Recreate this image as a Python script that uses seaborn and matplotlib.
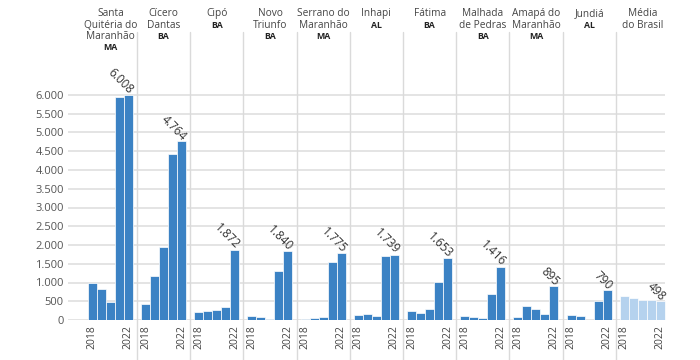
import matplotlib
matplotlib.use("Agg")
import matplotlib.pyplot as plt
import seaborn as sns
import pandas as pd
from matplotlib.lines import Line2D

# ---- data ----
years = ["2018", "2019", "2020", "2021", "2022"]
cities = ["Santa\nQuitéria do\nMaranhão", "Cícero\nDantas", "Cipó", "Novo\nTriunfo",
          "Serrano do\nMaranhão", "Inhapi", "Fátima", "Malhada\nde Pedras",
          "Amapá do\nMaranhão", "Jundiá", "Média\ndo Brasil"]
states = ["MA", "BA", "BA", "BA", "MA", "AL", "BA", "BA", "MA", "AL", ""]

santa_quiteria = [1000, 830, 470, 5940, 6008]
cicero_dantas = [435, 1180, 1940, 4430, 4764]
cipo = [205, 230, 258, 338, 1872]
novo_triunfo = [100, 80, 35, 1315, 1840]
serrano = [35, 60, 80, 1540, 1775]
inhapi = [125, 160, 100, 1715, 1739]
fatima = [240, 190, 295, 1005, 1653]
malhada = [107, 80, 55, 685, 1416]
amapa = [80, 375, 300, 170, 895]
jundia = [133, 107, 0, 515, 790]
media_brasil = [630, 585, 535, 535, 498]

series = [santa_quiteria, cicero_dantas, cipo, novo_triunfo, serrano, inhapi,
          fatima, malhada, amapa, jundia, media_brasil]
y_ticks = list(range(0, 6001, 500))

# ---- style ----
sns.set_theme(style="white")
plt.rcParams['font.family'] = ['Open Sans', 'DejaVu Sans']

BLUE = "#3b82c4"
LIGHT = "#b5d2ee"
W, H = 700, 360
fig = plt.figure(figsize=(7, 3.6), dpi=100)


def fx(px):
    return px / W


def fy(py):
    return 1 - py / H


y0_px, y6000_px, top_px = 320, 95, 32
ppu = (y0_px - y6000_px) / 6000
ymax = (y0_px - top_px) / ppu

# background grid axes
bg = fig.add_axes([fx(68), fy(y0_px), (665 - 68) / W, (y0_px - top_px) / H])
bg.set_ylim(0, ymax)
bg.set_xlim(0, 1)
for t in y_ticks:
    bg.axhline(t, color="#e2e2e2", lw=1.3, zorder=0)
bg.set_yticks(y_ticks)
bg.set_yticklabels([f"{t:,}".replace(",", ".") for t in y_ticks])
bg.tick_params(axis="y", length=0, pad=3, labelsize=8, labelcolor="#555555")
bg.set_xticks([])
for s in bg.spines.values():
    s.set_visible(False)
bg.patch.set_visible(False)

panel_left = 83.8
panel_w = 53.2
unit = 9.0
for i, vals in enumerate(series):
    left = panel_left + i * panel_w
    ax = fig.add_axes([fx(left), fy(y0_px), panel_w / W, (y0_px - top_px) / H])
    df = pd.DataFrame({"year": years, "value": vals})
    color = LIGHT if i == len(series) - 1 else BLUE
    sns.barplot(data=df, x="year", y="value", ax=ax, color=color, width=1,
                saturation=1, edgecolor="white", linewidth=0.5)
    ax.set_ylim(0, ymax)
    ax.set_xlim(-0.5 - 4 / unit, 4.5 + (panel_w - 45 - 4) / unit)
    ax.set_xticks([0, 4])
    ax.set_xticklabels([years[0], years[-1]], rotation=90)
    ax.tick_params(axis="x", length=0, pad=4, labelsize=7.5, labelcolor="#444444")
    ax.set_yticks([])
    ax.set_xlabel("")
    ax.set_ylabel("")
    for s in ax.spines.values():
        s.set_visible(False)
    ax.patch.set_visible(False)
    last = vals[-1]
    ax.annotate(f"{last:,}".replace(",", "."), xy=(4, last), xytext=(-1, -1.5),
                textcoords="offset points", rotation=-45, rotation_mode="anchor",
                ha="right", va="bottom", fontsize=8.5, color="#333333")

    # titles
    cx = left + panel_w / 2
    lines = cities[i].split("\n")
    for j, ln in enumerate(lines):
        fig.text(fx(cx), fy(16 + 11.5 * j), ln, ha="center", va="baseline",
                 fontsize=7.3, color="#444444")
    if states[i]:
        fig.text(fx(cx), fy(16 + 11.5 * len(lines)), states[i], ha="center",
                 va="baseline", fontsize=6.3, fontweight="bold", color="#222222")

    if i > 0:
        fig.add_artist(Line2D([fx(left), fx(left)], [fy(top_px), fy(360)],
                              transform=fig.transFigure, color="#dadada", lw=1))

fig.savefig("out.png", dpi=100)
